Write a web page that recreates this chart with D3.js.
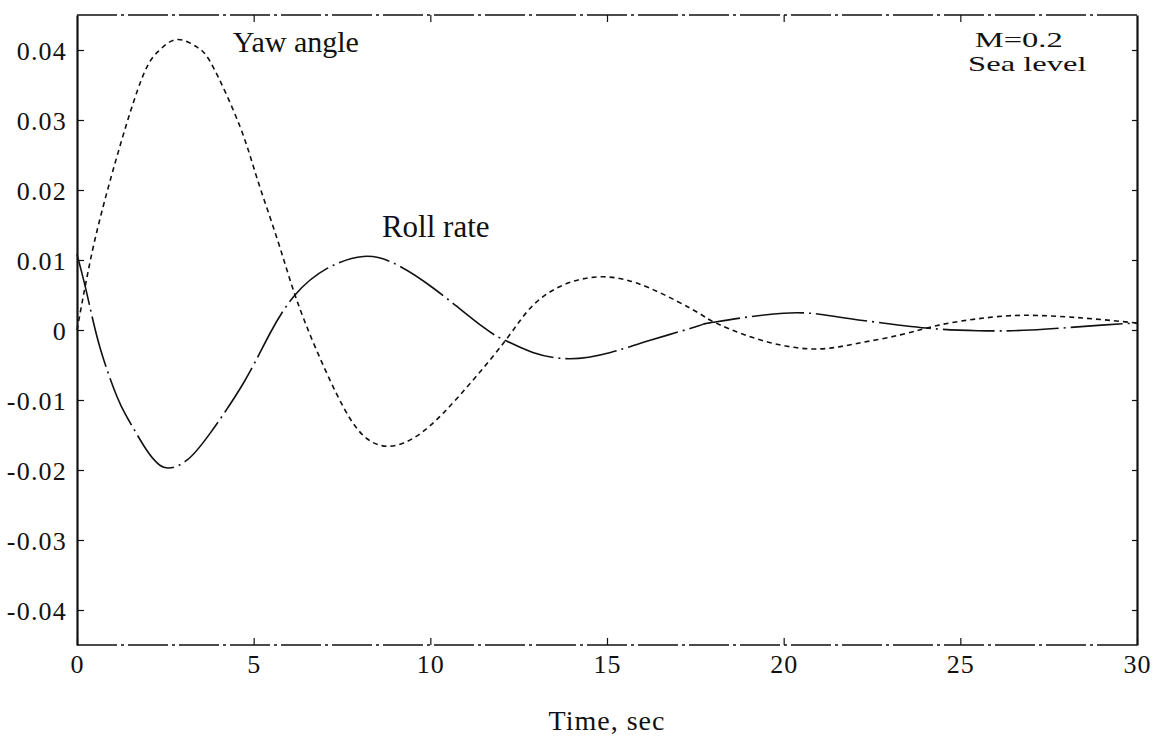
<!DOCTYPE html>
<html>
<head>
<meta charset="utf-8">
<script src="https://cdn.jsdelivr.net/npm/d3@7"></script>
<style>
  html, body { margin: 0; padding: 0; background: #fff; }
  svg { display: block; }
  text { font-family: "Liberation Serif", "Times New Roman", serif; fill: #111; }
</style>
</head>
<body>
<svg id="chart" width="1160" height="740"></svg>
<script>
// ---- data ----
const rollTime  = [0, 0.28, 0.65, 1.13, 1.42, 1.9, 2.46, 3.11, 3.76, 4.72, 5.46, 6.17, 7.08, 8.1, 8.94, 10.08, 11.5, 12.17, 12.9, 13.95, 15.1, 16.2, 17.6, 18.0, 20.0, 21.5, 22.8, 24.2, 25.5, 27.0, 29.0, 30.0];
const rollRate  = [0.0108, 0.0052, -0.0025, -0.0095, -0.0125, -0.0166, -0.0196, -0.0186, -0.0148, -0.0075, -0.0005, 0.0050, 0.0088, 0.0105, 0.0096, 0.0060, 0.0004, -0.0016, -0.0032, -0.0041, -0.0032, -0.0015, 0.0006, 0.0011, 0.0024, 0.0019, 0.0010, 0.0002, -0.0001, 0.0, 0.0007, 0.0010];

const yawTime   = [0, 0.3, 0.79, 1.73, 2.3, 2.83, 3.4, 3.85, 4.61, 5.1, 5.66, 6.17, 6.79, 7.56, 8.2, 8.86, 9.6, 10.38, 11.27, 12.17, 12.9, 13.8, 14.9, 16.2, 17.6, 18.0, 19.2, 20.75, 22.0, 23.3, 24.4, 25.5, 26.8, 28.5, 30.0];
const yawAngle  = [0.0, 0.0080, 0.0186, 0.0345, 0.0398, 0.0415, 0.0404, 0.0376, 0.0291, 0.0216, 0.0131, 0.0050, -0.0030, -0.0112, -0.0155, -0.0166, -0.0152, -0.0118, -0.0068, -0.0012, 0.0035, 0.0065, 0.0076, 0.0060, 0.0024, 0.0012, -0.0012, -0.0027, -0.0020, -0.0007, 0.0007, 0.0016, 0.0021, 0.0017, 0.0010];

const xTicks = [0, 5, 10, 15, 20, 25, 30];
const xTickLabels = ["0", "5", "10", "15", "20", "25", "30"];
const yTicks = [0.04, 0.03, 0.02, 0.01, 0, -0.01, -0.02, -0.03, -0.04];
const yTickLabels = ["0.04", "0.03", "0.02", "0.01", "0", "-0.01", "-0.02", "-0.03", "-0.04"];

const xLabel = "Time, sec";
const curveLabels = ["Yaw angle", "Roll rate"];
const conditionLabels = ["M=0.2", "Sea level"];

// ---- layout ----
const svg = d3.select("#chart");
const x = d3.scaleLinear().domain([0, 30]).range([77, 1137]);
const y = d3.scaleLinear().domain([-0.045, 0.045]).range([645, 15]);

const rollData = rollTime.map((t, i) => [t, rollRate[i]]);
const yawData = yawTime.map((t, i) => [t, yawAngle[i]]);

const line = d3.line()
  .x(d => x(d[0]))
  .y(d => y(d[1]))
  .curve(d3.curveNatural);

const [x0, x1] = x.range();
const [yb, yt] = y.range();

// frame: top and bottom broken (dash-dot), left and right solid
[yt, yb].forEach(yy => {
  svg.append("line").attr("x1", x0).attr("x2", x1).attr("y1", yy).attr("y2", yy)
    .attr("stroke", "#111").attr("stroke-width", 1.6).attr("stroke-dasharray", "40,4,3,4");
});

// left axis
const yAxis = d3.axisLeft(y).tickValues(yTicks)
  .tickFormat((d, i) => yTickLabels[i])
  .tickSizeInner(-7).tickSizeOuter(0).tickPadding(10);
const gy = svg.append("g").attr("transform", `translate(${x0},0)`).call(yAxis);
gy.select(".domain").attr("stroke", "#111").attr("stroke-width", 2.2);
gy.selectAll(".tick line").attr("stroke", "#111").attr("stroke-width", 1.2);
gy.selectAll(".tick text")
  .attr("font-size", 26).attr("letter-spacing", 1.2)
  .attr("font-family", "Liberation Serif").attr("fill", "#111")
  .attr("dy", "0.36em");

// right axis (ticks only, inward)
const yAxisR = d3.axisRight(y).tickValues(yTicks).tickFormat("")
  .tickSizeInner(-5).tickSizeOuter(0);
const gyr = svg.append("g").attr("transform", `translate(${x1},0)`).call(yAxisR);
gyr.select(".domain").attr("stroke", "#111").attr("stroke-width", 2.2);
gyr.selectAll(".tick line").attr("stroke", "#111").attr("stroke-width", 1.2);

// bottom axis
const xAxis = d3.axisBottom(x).tickValues(xTicks)
  .tickFormat((d, i) => xTickLabels[i])
  .tickSizeInner(-7).tickSizeOuter(0).tickPadding(12);
const gx = svg.append("g").attr("transform", `translate(0,${yb})`).call(xAxis);
gx.select(".domain").remove();
gx.selectAll(".tick line").attr("stroke", "#111").attr("stroke-width", 1.2);
gx.selectAll(".tick text")
  .attr("font-size", 26).attr("letter-spacing", 1)
  .attr("font-family", "Liberation Serif").attr("fill", "#111")
  .attr("y", 28).attr("dy", 0);

// top axis (ticks only, inward)
const xAxisT = d3.axisTop(x).tickValues(xTicks.slice(1, -1)).tickFormat("")
  .tickSizeInner(-7).tickSizeOuter(0);
const gxt = svg.append("g").attr("transform", `translate(0,${yt})`).call(xAxisT);
gxt.select(".domain").remove();
gxt.selectAll(".tick line").attr("stroke", "#111").attr("stroke-width", 1.2);

// curves
svg.append("path").datum(yawData)
  .attr("d", line).attr("fill", "none")
  .attr("stroke", "#111").attr("stroke-width", 1.6)
  .attr("stroke-dasharray", "5,4");

svg.append("path").datum(rollData)
  .attr("d", line).attr("fill", "none")
  .attr("stroke", "#111").attr("stroke-width", 1.6)
  .attr("stroke-dasharray", "52,5,2,5");

// curve labels (anchored in data coordinates)
svg.append("text")
  .attr("x", x(4.41)).attr("y", y(0.0397))
  .attr("font-size", 30).text(curveLabels[0]);
svg.append("text")
  .attr("x", x(8.63)).attr("y", y(0.0133))
  .attr("font-size", 31).text(curveLabels[1]);

// flight condition (wide, as in the scanned original)
svg.append("text")
  .attr("transform", `translate(${x(25.41)},${y(0.0405)}) scale(1.48,1)`)
  .attr("font-size", 22).text(conditionLabels[0]);
svg.append("text")
  .attr("transform", `translate(${x(25.22)},${y(0.0370)}) scale(1.48,1)`)
  .attr("font-size", 22).text(conditionLabels[1]);

// axis title
svg.append("text")
  .attr("x", (x0 + x1) / 2).attr("y", 730)
  .attr("text-anchor", "middle")
  .attr("font-size", 28).attr("letter-spacing", 1)
  .text(xLabel);
</script>
</body>
</html>
